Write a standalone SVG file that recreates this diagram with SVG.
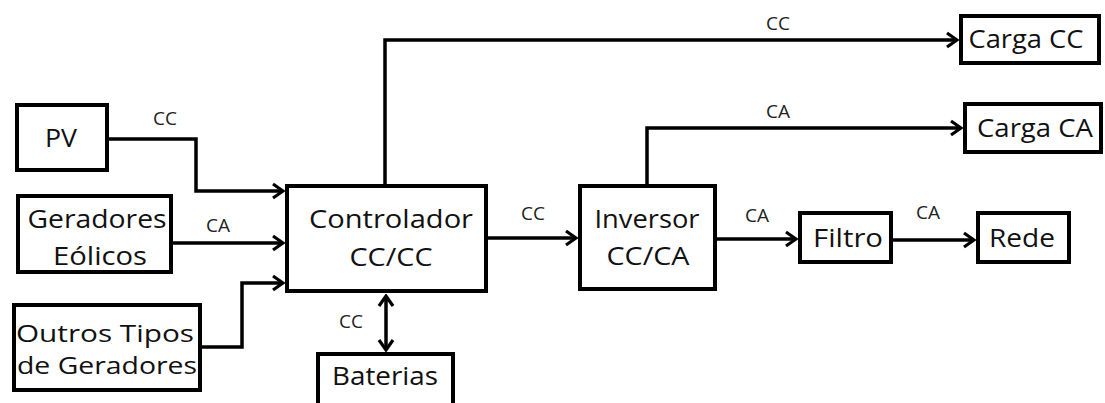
<svg xmlns="http://www.w3.org/2000/svg" width="1105" height="403" viewBox="0 0 1105 403">
<style>
.box{fill:#fff;stroke:#000;stroke-width:4}
.big{font-family:"Open Sans","Noto Sans",sans-serif;font-size:25px;fill:#111;text-anchor:middle}
.sm{font-size:23px}
.lbl{font-family:"Open Sans","Noto Sans",sans-serif;font-size:19px;fill:#222;text-anchor:middle}
.ln{fill:none;stroke:#000;stroke-width:3.5;marker-end:url(#arr)}
</style>
<defs>
<marker id="arr" markerUnits="userSpaceOnUse" viewBox="0 0 14 18" refX="12" refY="9" markerWidth="14" markerHeight="18" orient="auto-start-reverse">
<path d="M2,2 L12,9 L2,16" fill="none" stroke="#000" stroke-width="3.2" stroke-linejoin="miter"/>
</marker>
</defs>
<rect width="1105" height="403" fill="#fff"/>
<g id="connectors">
<path class="ln" d="M109,139 H196 V191 H283"/>
<path class="ln" d="M173,243 H283"/>
<path class="ln" d="M202,347 H242 V283 H283"/>
<path class="ln" d="M385,184 V40 H957"/>
<path class="ln" d="M488,238 H576"/>
<path class="ln" d="M386,296 V350" marker-start="url(#arr)"/>
<path class="ln" d="M647,184 V128 H961"/>
<path class="ln" d="M717,239 H796"/>
<path class="ln" d="M893,240 H974"/>
<text class="lbl" x="165" y="125">CC</text>
<text class="lbl" x="218" y="232">CA</text>
<text class="lbl" x="351" y="328">CC</text>
<text class="lbl" x="533" y="220">CC</text>
<text class="lbl" x="778" y="30">CC</text>
<text class="lbl" x="778" y="118">CA</text>
<text class="lbl" x="757" y="222">CA</text>
<text class="lbl" x="928" y="219">CA</text>
</g>
<g id="pv">
<rect class="box" x="17" y="105" width="90" height="65"/>
<text class="big" x="61" y="147" textLength="32" lengthAdjust="spacingAndGlyphs">PV</text>
</g>
<g id="eolicos">
<rect class="box" x="18" y="196" width="153" height="76"/>
<text class="big" x="97" y="228" textLength="139" lengthAdjust="spacingAndGlyphs">Geradores</text>
<text class="big" x="100" y="265" textLength="94" lengthAdjust="spacingAndGlyphs">Eólicos</text>
</g>
<g id="outros">
<rect class="box" x="14" y="305" width="186" height="85"/>
<text class="big sm" x="105" y="342" textLength="178" lengthAdjust="spacingAndGlyphs">Outros Tipos</text>
<text class="big sm" x="107" y="374" textLength="180" lengthAdjust="spacingAndGlyphs">de Geradores</text>
</g>
<g id="controlador">
<rect class="box" x="287" y="186" width="199" height="105"/>
<text class="big" x="391" y="228" textLength="164" lengthAdjust="spacingAndGlyphs">Controlador</text>
<text class="big" x="391" y="266" textLength="83" lengthAdjust="spacingAndGlyphs">CC/CC</text>
</g>
<g id="baterias">
<rect class="box" x="318" y="354" width="135" height="60"/>
<text class="big" x="385" y="385" textLength="106" lengthAdjust="spacingAndGlyphs">Baterias</text>
</g>
<g id="inversor">
<rect class="box" x="580" y="186" width="135" height="103"/>
<text class="big" x="647" y="228" textLength="105" lengthAdjust="spacingAndGlyphs">Inversor</text>
<text class="big" x="648" y="265" textLength="83" lengthAdjust="spacingAndGlyphs">CC/CA</text>
</g>
<g id="filtro">
<rect class="box" x="800" y="213" width="91" height="49"/>
<text class="big" x="848" y="247" textLength="70" lengthAdjust="spacingAndGlyphs">Filtro</text>
</g>
<g id="rede">
<rect class="box" x="978" y="213" width="91" height="49"/>
<text class="big" x="1022" y="247" textLength="66" lengthAdjust="spacingAndGlyphs">Rede</text>
</g>
<g id="cargacc">
<rect class="box" x="961" y="16" width="138" height="47"/>
<text class="big" x="1026" y="48" textLength="115" lengthAdjust="spacingAndGlyphs">Carga CC</text>
</g>
<g id="cargaca">
<rect class="box" x="965" y="104" width="136" height="48"/>
<text class="big" x="1035" y="137" textLength="116" lengthAdjust="spacingAndGlyphs">Carga CA</text>
</g>
</svg>
